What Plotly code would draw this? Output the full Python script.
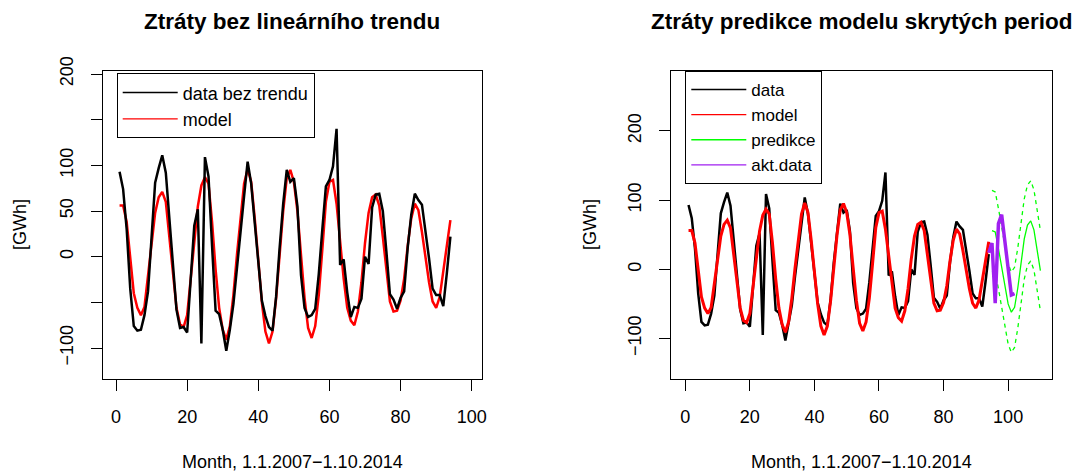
import plotly.graph_objects as go

W, H = 1075, 471

# Monthly losses with the linear trend removed (months 1..94)
months = list(range(1, 95))
data_detrended = [
    93, 74, 30, -35, -76, -81, -80, -64, -38, 22,
    81, 97, 111, 92, 42, -4, -58, -78, -77, -83,
    -30, 34, 52, -95, 109, 88, 12, -59, -63, -80,
    -103, -80, -52, -10, 28, 66, 104, 80, 37, -5,
    -48, -65, -77, -81, -44, 10, 58, 95, 82, 86,
    55, -20, -56, -66, -64, -57, -19, 30, 77, 84,
    99, 140, -9, -3, -39, -66, -55, -56, -46, 0,
    -8, 54, 68, 69, 50, 6, -41, -47, -57, -45,
    -38, 10, 46, 69, 62, 57, 30, -2, -35, -42,
    -42, -54, -18, 22,
]

# Hidden-periods model fitted to the detrended series
model_fit = [
    56, 56, 38, -5, -40, -56, -64, -55, -22, 15,
    48, 65, 71, 60, 22, -22, -56, -74, -77, -64,
    -25, 15, 55, 78, 87, 80, 38, -14, -56, -80,
    -91, -76, -42, 2, 45, 80, 96, 82, 42, -6,
    -50, -82, -95, -82, -46, 2, 50, 86, 95, 82,
    50, 2, -45, -78, -89, -76, -42, 8, 60, 82,
    84, 58, 17, -24, -56, -70, -75, -60, -28, 15,
    48, 65, 68, 56, 22, -17, -49, -60, -59, -48,
    -24, 12, 42, 58, 51, 27, -2, -28, -49, -56,
    -44, -16, 13, 40,
]

# Newly observed values after the fitting window
months_actual = list(range(94, 103))
actual_data = [24, 38, -49, 66, 79, 42, 2, -37, -35]

# Forecast with its upper and lower bounds
months_pred = list(range(95, 111))
pred = [56, 54, 30, 2, -27, -50, -62, -55, -27, 10, 44, 64, 70, 57, 28, -2]
pred_upper = [114, 112, 88, 60, 31, 8, -4, 3, 31, 68, 102, 122, 128, 115, 86, 56]
pred_lower = [-2, -4, -28, -56, -85, -108, -120, -113, -85, -48, -14, 6, 12, -1, -30, -60]

x_ticks = [0, 20, 40, 60, 80, 100]
x_ticktext = ["0", "20", "40", "60", "80", "100"]
y1_ticks = [-100, -50, 0, 50, 100, 150, 200]
y1_ticktext = ["\u2212100", "", "0", "50", "100", "", "200"]
y2_ticks = [-100, 0, 100, 200]
y2_ticktext = ["\u2212100", "0", "100", "200"]

FONT = "Liberation Sans, Arial, Helvetica, sans-serif"
BLACK = "#000000"
RED = "#FF0000"
GREEN = "#00FF00"
PURPLE = "#A020F0"


def fx(px):
    return px / W


def fy(py):
    return 1 - py / H


fig = go.Figure()


def add_line(x, y, color, width, xa, ya, dash=None):
    fig.add_trace(go.Scatter(x=x, y=y, mode="lines", showlegend=False,
                             hoverinfo="skip",
                             line=dict(color=color, width=width, dash=dash),
                             xaxis=xa, yaxis=ya))


def add_key(name, color, legend, xa, ya):
    # thin legend key, as drawn by legend() with the default line width
    fig.add_trace(go.Scatter(x=[None], y=[None], mode="lines", name=name,
                             line=dict(color=color, width=1.4),
                             xaxis=xa, yaxis=ya, legend=legend))


# Left panel: model underneath, detrended data on top
add_line(months, model_fit, RED, 2.5, "x", "y")
add_line(months, data_detrended, BLACK, 2.5, "x", "y")
add_key("data bez trendu", BLACK, "legend", "x", "y")
add_key("model", RED, "legend", "x", "y")

# Right panel: data, model, forecast band and newly observed data
add_line(months, data_detrended, BLACK, 2.5, "x2", "y2")
add_line(months, model_fit, RED, 3, "x2", "y2")
add_line(months_pred, pred, GREEN, 1.3, "x2", "y2")
add_line(months_pred, pred_upper, GREEN, 1.3, "x2", "y2", dash="4px,4px")
add_line(months_pred, pred_lower, GREEN, 1.3, "x2", "y2", dash="4px,4px")
add_line(months_actual, actual_data, PURPLE, 3.5, "x2", "y2")
add_key("data", BLACK, "legend2", "x2", "y2")
add_key("model", RED, "legend2", "x2", "y2")
add_key("predikce", GREEN, "legend2", "x2", "y2")
add_key("akt.data", PURPLE, "legend2", "x2", "y2")

axis_common = dict(
    showline=True, linecolor=BLACK, linewidth=1, mirror=True,
    ticks="outside", ticklen=11, tickwidth=1, tickcolor=BLACK,
    showgrid=False, zeroline=False, automargin=False,
    tickfont=dict(family=FONT, size=18, color=BLACK),
)

legend_common = dict(
    xanchor="left", yanchor="top",
    bordercolor=BLACK, borderwidth=1, bgcolor="white",
    traceorder="normal", itemwidth=55,
)

fig.update_layout(
    width=W, height=H, autosize=False,
    margin=dict(l=0, r=0, t=0, b=0, pad=0),
    paper_bgcolor="white", plot_bgcolor="white",
    font=dict(family=FONT, size=18, color=BLACK),
    xaxis=dict(domain=[fx(102.7), fx(481.7)], range=[-3.74, 102.8],
               tickvals=x_ticks, ticktext=x_ticktext, anchor="y",
               ticklabelstandoff=10, **axis_common),
    yaxis=dict(domain=[fy(379), fy(71)], range=[-133.9, 203.3],
               tickvals=y1_ticks, ticktext=y1_ticktext, tickangle=-90,
               anchor="x", ticklabelstandoff=11, **axis_common),
    xaxis2=dict(domain=[fx(671), fx(1051.7)], range=[-4.43, 113.5],
                tickvals=x_ticks, ticktext=x_ticktext, anchor="y2",
                ticklabelstandoff=10, **axis_common),
    yaxis2=dict(domain=[fy(379.3), fy(71)], range=[-159.0, 286.7],
                tickvals=y2_ticks, ticktext=y2_ticktext, tickangle=-90,
                anchor="x2", ticklabelstandoff=11, **axis_common),
    legend=dict(x=fx(116.7), y=fy(73.3),
                font=dict(family=FONT, size=18, color=BLACK), **legend_common),
    legend2=dict(x=fx(685.3), y=fy(71),
                 font=dict(family=FONT, size=17, color=BLACK), **legend_common),
)

annotations = [
    dict(text="<b>Ztráty bez lineárního trendu</b>", x=fx(292.2), y=fy(22), size=22.5),
    dict(text="<b>Ztráty predikce modelu skrytých period</b>", x=fx(861.4), y=fy(22), size=22.5),
    dict(text="Month, 1.1.2007\u22121.10.2014", x=fx(292.2), y=fy(462), size=18),
    dict(text="Month, 1.1.2007\u22121.10.2014", x=fx(861.4), y=fy(462), size=18),
    dict(text="[GWh]", x=fx(20), y=fy(225), textangle=-90, size=18),
    dict(text="[GWh]", x=fx(590), y=fy(225), textangle=-90, size=18),
]
for a in annotations:
    size = a.pop("size")
    a.update(xref="paper", yref="paper", showarrow=False,
             xanchor="center", yanchor="middle",
             font=dict(family=FONT, color=BLACK, size=size))
fig.update_layout(annotations=annotations)

fig.write_html("out.html")
